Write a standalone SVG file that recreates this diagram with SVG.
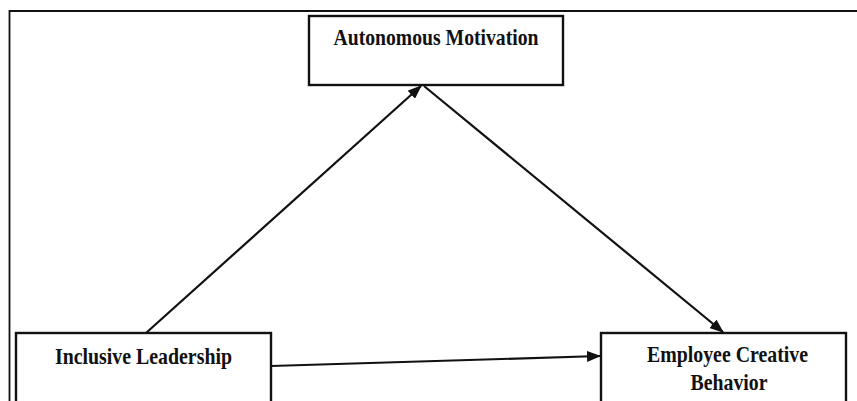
<svg xmlns="http://www.w3.org/2000/svg" width="857" height="401" viewBox="0 0 857 401">
<style>
.box{fill:#fff;stroke:#111;stroke-width:2.4}
.frame{fill:none;stroke:#111;stroke-width:1.8}
.lbl{font-family:"Liberation Serif","Times New Roman",serif;font-weight:bold;font-size:23px;fill:#111;text-anchor:middle}
.edge{stroke:#111;stroke-width:2.2;fill:none;marker-end:url(#ah)}
</style>
<defs>
<marker id="ah" markerWidth="14" markerHeight="11" refX="13" refY="5.5" orient="auto" markerUnits="userSpaceOnUse">
<path d="M0,0 L14,5.5 L0,11 Z" fill="#111"/>
</marker>
</defs>
<rect width="857" height="401" fill="#fff"/>
<path class="frame" d="M9.5,401 L9.5,11 L857,11"/>
<g id="autonomous-motivation">
<rect class="box" x="309" y="16" width="254" height="69"/>
<text class="lbl" x="436" y="45" textLength="205" lengthAdjust="spacingAndGlyphs">Autonomous Motivation</text>
</g>
<g id="inclusive-leadership">
<rect class="box" x="16" y="333" width="255" height="72"/>
<text class="lbl" x="143.5" y="364" textLength="177" lengthAdjust="spacingAndGlyphs">Inclusive Leadership</text>
</g>
<g id="employee-creative-behavior">
<rect class="box" x="601" y="333" width="245" height="72"/>
<text class="lbl" x="727.5" y="362" textLength="161" lengthAdjust="spacingAndGlyphs">Employee Creative</text>
<text class="lbl" x="729" y="390" textLength="77" lengthAdjust="spacingAndGlyphs">Behavior</text>
</g>
<g id="connectors">
<line class="edge" x1="146" y1="333" x2="421" y2="86"/>
<line class="edge" x1="424" y1="86" x2="723" y2="332"/>
<line class="edge" x1="271" y1="366" x2="600" y2="356"/>
</g>
</svg>
